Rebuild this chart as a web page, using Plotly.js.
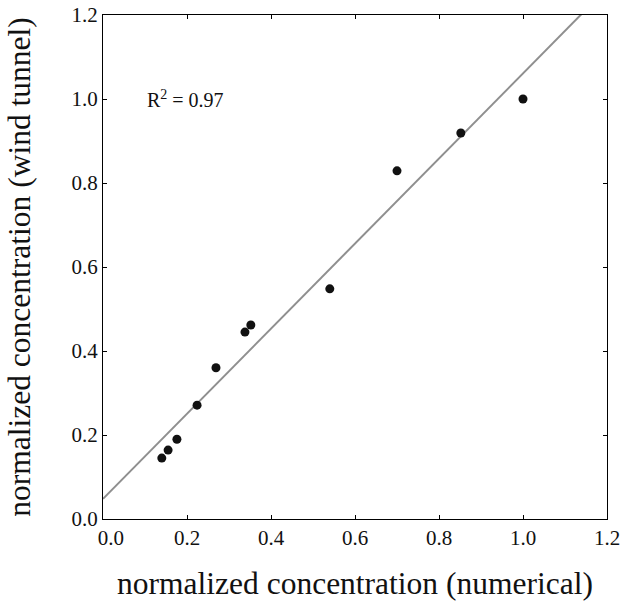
<!DOCTYPE html>
<html>
<head>
<meta charset="utf-8">
<script src="https://cdn.plot.ly/plotly-3.0.1.min.js"></script>
<style>html,body{margin:0;padding:0;background:#fff;}#chart{width:627px;height:601px;}</style>
</head>
<body>
<div id="chart"></div>
<script>
// Measured points: numerical vs wind tunnel normalized concentration
const numerical = [0.140, 0.155, 0.176, 0.224, 0.269, 0.338, 0.352, 0.540, 0.700, 0.852, 1.000];
const windTunnel = [0.145, 0.164, 0.190, 0.271, 0.360, 0.445, 0.462, 0.548, 0.829, 0.919, 1.000];
// Regression line parameters
const fitIntercept = 0.048;
const fitSlope = 1.013;
const fitX = [0, 1.2];
const fitY = fitX.map(x => fitIntercept + fitSlope * x);
const rSquaredText = "R<sup>2</sup> = 0.97";
const tickVals = [0, 0.2, 0.4, 0.6, 0.8, 1.0, 1.2];
const xTickText = ["\u00a0\u00a0\u00a00.0", "0.2", "0.4", "0.6", "0.8", "1.0", "1.2"];
const yTickText = ["0.0", "0.2", "0.4", "0.6", "0.8", "1.0", "1.2"];

const font = "Liberation Serif";

const traces = [
  {x: fitX, y: fitY, mode: "lines", line: {color: "#8f8f8f", width: 2}, hoverinfo: "skip", showlegend: false},
  {x: numerical, y: windTunnel, mode: "markers", marker: {color: "#111111", size: 9}, showlegend: false}
];

const layout = {
  width: 627, height: 601,
  margin: {l: 103, r: 20, t: 15, b: 82},
  paper_bgcolor: "#fff", plot_bgcolor: "#fff",
  font: {family: font, size: 21, color: "#111"},
  xaxis: {
    range: [0, 1.2], tickmode: "array", tickvals: tickVals, ticktext: xTickText,
    ticks: "inside", ticklen: 4, tickwidth: 1, tickcolor: "#000",
    showline: true, linecolor: "#000", linewidth: 1, mirror: "ticks",
    showgrid: false, zeroline: false,
    tickfont: {family: font, size: 21, color: "#111"},
    title: {text: "normalized concentration (numerical)", font: {family: font, size: 31.5, color: "#111"}}
  },
  yaxis: {
    range: [0, 1.2], tickmode: "array", tickvals: tickVals, ticktext: yTickText,
    ticks: "inside", ticklen: 4, tickwidth: 1, tickcolor: "#000",
    showline: true, linecolor: "#000", linewidth: 1, mirror: "ticks",
    showgrid: false, zeroline: false,
    tickfont: {family: font, size: 21, color: "#111"},
    title: {text: "normalized concentration (wind tunnel)", font: {family: font, size: 31.5, color: "#111"}}
  },
  annotations: [{
    x: 0.1, y: 1.0, xref: "x", yref: "y", xanchor: "left", yanchor: "middle",
    text: rSquaredText, showarrow: false, font: {family: font, size: 20, color: "#111"}
  }]
};

Plotly.newPlot("chart", traces, layout, {displayModeBar: false, staticPlot: true});
</script>
</body>
</html>
